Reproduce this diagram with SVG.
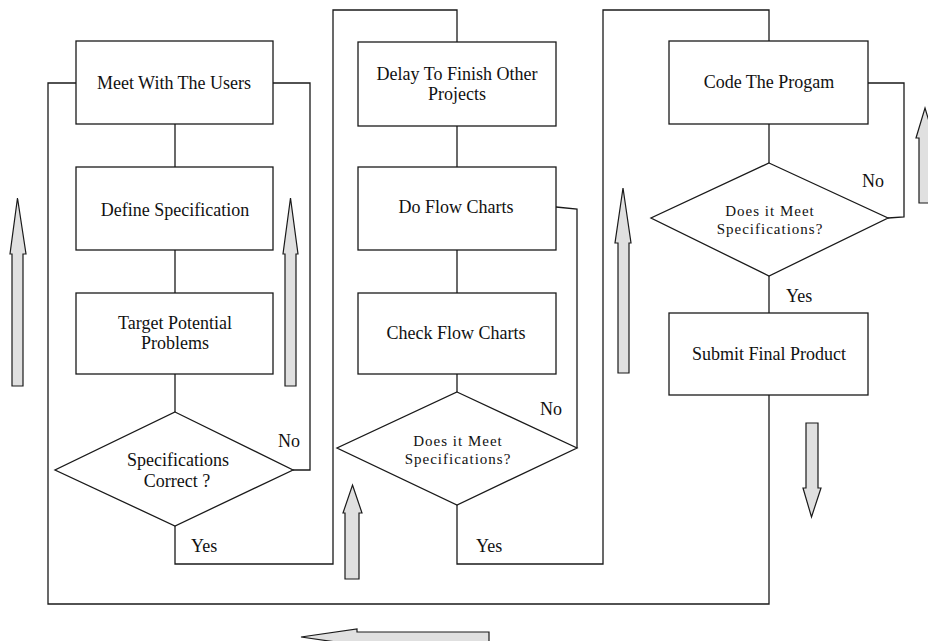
<svg xmlns="http://www.w3.org/2000/svg" width="928" height="641" viewBox="0 0 928 641">
  <style>
    .box { fill: #ffffff; stroke: #1a1a1a; stroke-width: 1.3; }
    .line { fill: none; stroke: #1a1a1a; stroke-width: 1.3; }
    .flow { fill: #e0e0e0; stroke: #1a1a1a; stroke-width: 1.2; stroke-linejoin: miter; }
    text { font-family: "Liberation Serif", "Times New Roman", serif; fill: #111; }
    .t { font-size: 18px; text-anchor: middle; }
    .q { font-size: 15px; text-anchor: middle; letter-spacing: 1px; }
    .lbl { font-size: 18px; }
  </style>

  <!-- connectors -->
  <g id="connectors">
    <!-- column 1 trunk -->
    <line class="line" x1="175" y1="124" x2="175" y2="167"/>
    <line class="line" x1="175" y1="250" x2="175" y2="293"/>
    <line class="line" x1="175" y1="374" x2="175" y2="412"/>
    <!-- "No" loop back to Meet With The Users -->
    <polyline class="line" points="293,470 310,470 310,83 273,83"/>
    <!-- "Yes" to column 2 -->
    <polyline class="line" points="175,526 175,564 333,564 333,10 457,10 457,42"/>
    <!-- column 2 trunk -->
    <line class="line" x1="457" y1="126" x2="457" y2="167"/>
    <line class="line" x1="457" y1="250" x2="457" y2="293"/>
    <line class="line" x1="457" y1="374" x2="457" y2="392"/>
    <!-- "No" loop back to Do Flow Charts -->
    <polyline class="line" points="577,448 577,209 556,207"/>
    <!-- "Yes" to column 3 -->
    <polyline class="line" points="457,505 457,564 603,564 603,10 769,10 769,41"/>
    <!-- column 3 trunk -->
    <line class="line" x1="769" y1="124" x2="769" y2="163"/>
    <line class="line" x1="769" y1="276" x2="769" y2="313"/>
    <!-- "No" loop back to Code The Progam -->
    <polyline class="line" points="888,218 904,217 904,83 868,83"/>
    <!-- outer return loop -->
    <polyline class="line" points="769,395 769,604 48,604 48,83 76,83"/>
  </g>

  <!-- column 1 -->
  <g id="meet-users">
    <rect class="box" x="76" y="41" width="197" height="83"/>
    <text class="t" x="174" y="89">Meet With The Users</text>
  </g>
  <g id="define-spec">
    <rect class="box" x="76" y="167" width="197" height="83"/>
    <text class="t" x="175" y="216">Define Specification</text>
  </g>
  <g id="target-problems">
    <rect class="box" x="76" y="293" width="197" height="81"/>
    <text class="t" x="175" y="329">Target Potential</text>
    <text class="t" x="175" y="349">Problems</text>
  </g>
  <g id="spec-correct">
    <polygon class="box" points="175,412 293,470 175,526 55,470"/>
    <text class="t" x="178" y="466">Specifications</text>
    <text class="t" x="177" y="487">Correct ?</text>
  </g>

  <!-- column 2 -->
  <g id="delay">
    <rect class="box" x="358" y="42" width="198" height="84"/>
    <text class="t" x="457" y="80">Delay To Finish Other</text>
    <text class="t" x="457" y="100">Projects</text>
  </g>
  <g id="do-flow">
    <rect class="box" x="358" y="167" width="198" height="83"/>
    <text class="t" x="456" y="213">Do Flow Charts</text>
  </g>
  <g id="check-flow">
    <rect class="box" x="358" y="293" width="198" height="81"/>
    <text class="t" x="456" y="339">Check Flow Charts</text>
  </g>
  <g id="meet-spec-2">
    <polygon class="box" points="457,392 577,448 457,505 337,448"/>
    <text class="q" x="458" y="446">Does it Meet</text>
    <text class="q" x="458" y="464">Specifications?</text>
  </g>

  <!-- column 3 -->
  <g id="code-program">
    <rect class="box" x="669" y="41" width="199" height="83"/>
    <text class="t" x="769" y="88">Code The Progam</text>
  </g>
  <g id="meet-spec-3">
    <polygon class="box" points="769,163 888,218 769,276 651,218"/>
    <text class="q" x="770" y="216">Does it Meet</text>
    <text class="q" x="770" y="234">Specifications?</text>
  </g>
  <g id="submit">
    <rect class="box" x="669" y="313" width="199" height="82"/>
    <text class="t" x="769" y="360">Submit Final Product</text>
  </g>

  <!-- branch labels -->
  <g id="labels">
    <text class="lbl" x="278" y="447">No</text>
    <text class="lbl" x="191" y="552">Yes</text>
    <text class="lbl" x="540" y="415">No</text>
    <text class="lbl" x="476" y="552">Yes</text>
    <text class="lbl" x="862" y="187">No</text>
    <text class="lbl" x="786" y="302">Yes</text>
  </g>

  <!-- direction arrows -->
  <g id="direction-arrows">
    <polygon class="flow" points="17.5,198 26,254 23,254 23,386 12,386 12,254 10,254"/>
    <polygon class="flow" points="290.5,198 298,254 296,254 296,386 285,386 285,254 283,254"/>
    <polygon class="flow" points="352.5,485 362,513 359,513 359,579 345,579 345,513 343,513"/>
    <polygon class="flow" points="623,188 631,243 629,243 629,373 618,373 618,243 615,243"/>
    <polygon class="flow" points="925,108 934,138 931,138 931,203 919,203 919,138 916,138"/>
    <polygon class="flow" points="811.5,517 821,488 818,488 818,423 806,423 806,488 803,488"/>
    <polygon class="flow" points="301,637 357,629 357,632 489,632 489,648 357,648 357,645"/>
  </g>
</svg>
